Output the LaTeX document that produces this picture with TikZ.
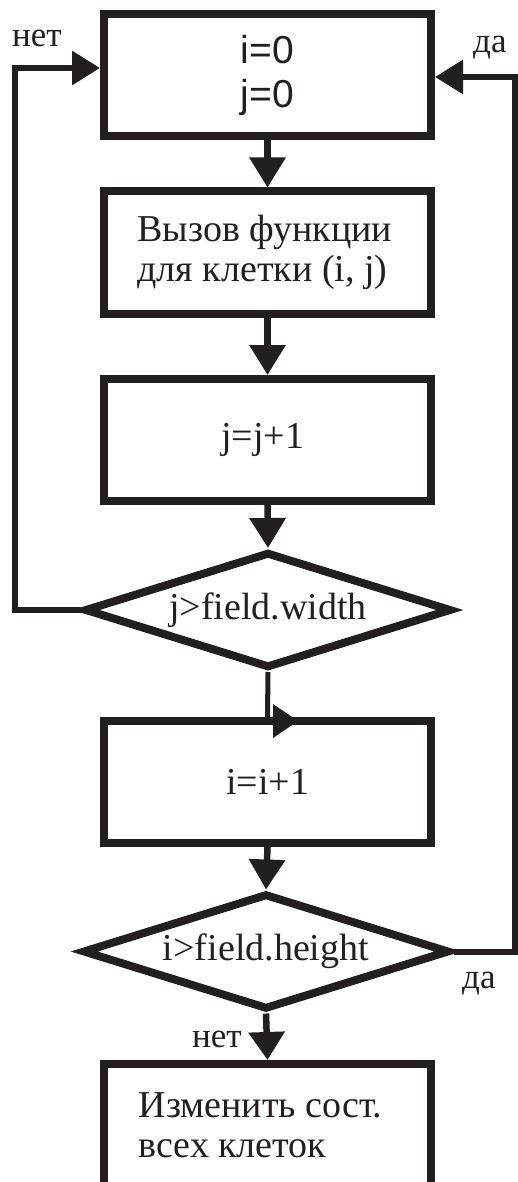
\documentclass[tikz,border=0pt]{standalone}
\usepackage{fontspec}
\setmainfont{Liberation Serif}
\newfontfamily\boxsans{Liberation Sans}
\usetikzlibrary{shapes.geometric,arrows.meta}
\definecolor{ink}{HTML}{231F20}
\begin{document}
\begin{tikzpicture}[x=1pt,y=-1pt,
  blk/.style={draw=ink, line width=8pt, rectangle, minimum width=327pt,
    minimum height=122pt, inner sep=0pt, align=left, text=ink,
    font=\fontsize{38}{40}\selectfont},
  dec/.style={draw=ink, diamond, line width=8pt, shape aspect=3.3,
    minimum width=367pt, minimum height=116pt, inner sep=0pt, text=ink,
    font=\fontsize{38}{40}\selectfont},
  conn/.style={draw=ink, line width=6.5pt,
    -{Triangle[length=30pt,width=35pt]}},
  loopconn/.style={draw=ink, line width=6pt, line join=miter,
    -{Triangle[length=28pt,width=33pt]}},
  lbl/.style={font=\fontsize{35}{39}\selectfont, inner sep=0pt,
    anchor=base west, text=ink}]
\useasboundingbox (0,0) rectangle (518,1182);
\fill[white] (0,0) rectangle (518,1182);

\node[blk, font=\boxsans\fontsize{39}{44}\selectfont, align=center]
  (b1) at (267.5,75) {i=0\\j=0};
\node[blk] (b2) at (267.5,252.5) {Вызов функции\\для клетки (i, j)\hspace*{10pt}};
\node[blk] (b3) at (267.5,440) {j=j+1\hspace*{10pt}};
\node[dec] (d1) at (268,610) {j>field.width};
\node[blk] (b4) at (267.5,782) {i=i+1};
\node[dec] (d2) at (266,951.5) {i>field.height};
\node[blk] (b5) at (267.5,1125) {Изменить сост.\hspace*{14pt}\\всех клеток};

\coordinate (inL) at ([yshift=7pt]b1.west);
\coordinate (inR) at ([yshift=-2pt]b1.east);
\coordinate (lx) at (14.5,0);
\coordinate (rx) at (514.5,0);

\draw[conn] (b1.south) -- (b2.north);
\draw[conn] (b2.south) -- (b3.north);
\draw[conn] (b3.south) -- (d1.north);
\draw[draw=ink, line width=5pt] (d1.south) -- (b4.north);
\fill[ink] ([shift={(5.5pt,13pt)}]b4.north) -- ++(25,17) -- ++(-25,17) -- cycle;
\draw[conn] (b4.south) -- (d2.north);
\draw[conn, -{Triangle[length=28pt,width=35pt]}] (d2.south) -- (b5.north);
\draw[loopconn] (d1.west) -| (lx |- inL) -- (inL);
\draw[loopconn] (d2.east) -| (rx |- inR) -- (inR);

\node[lbl] (l1) at (12,47) {нет};
\node[lbl] (l2) at (473,53) {да};
\node[lbl] (l3) at (462,988) {да};
\node[lbl] (l4) at (192,1047) {нет};
\end{tikzpicture}
\end{document}
